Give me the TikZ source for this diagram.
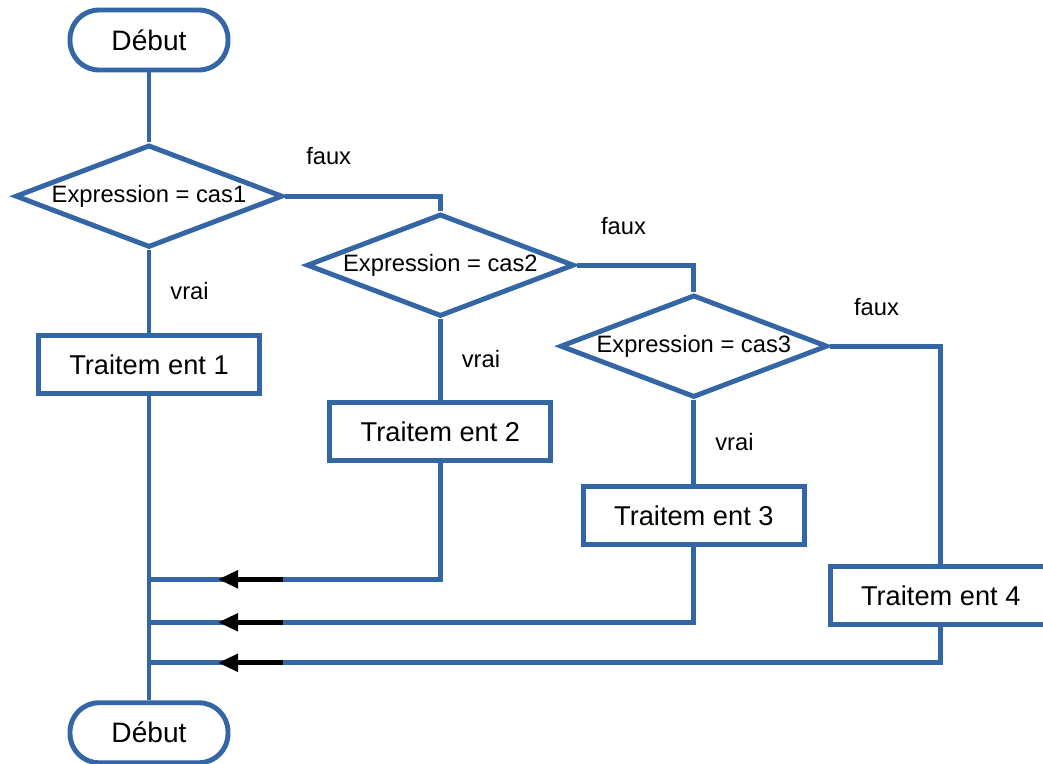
\documentclass[tikz,border=0pt]{standalone}
\usepackage{fontspec}
\setmainfont{Liberation Sans}
\usetikzlibrary{shapes,arrows.meta,positioning}
\definecolor{bleu}{HTML}{3465A4}
\tikzstyle{terminal} = [rectangle, draw=bleu, line width=2.8pt, fill=white,
    rounded corners=0.58cm, minimum width=3.16cm, minimum height=1.2cm,
    font=\fontsize{16}{18}\selectfont]
\tikzstyle{decision} = [diamond, draw=bleu, line width=2.8pt, fill=white,
    shape aspect=2.6, inner sep=0pt, minimum width=5.35cm, minimum height=2.05cm,
    font=\fontsize{13.5}{15}\selectfont]
\tikzstyle{traitement} = [rectangle, draw=bleu, line width=2.8pt, fill=white,
    minimum width=4.42cm, minimum height=1.16cm, font=\fontsize{15.5}{17}\selectfont]
\tikzstyle{lien} = [draw=bleu, line width=2.8pt]
\tikzstyle{etiquette} = [inner sep=0pt, font=\fontsize{13.5}{15}\selectfont]
\tikzstyle{fleche} = [draw=black, line width=2.8pt, -{Triangle[length=0.4cm,width=0.34cm]}]

\begin{document}
\begin{tikzpicture}
    \useasboundingbox (0,0) rectangle (20.86,-15.26);
    \clip (0,0) rectangle (20.86,-15.26);

    \node[terminal] (debut) at (2.98,-0.8) {Début};
    \node[decision, below=1.4cm of debut] (cas1) {Expression = cas1};
    \node[traitement, below=1.66cm of cas1] (t1) {Traitem ent 1};
    \node[terminal, below=6.09cm of t1] (fin) {Début};

    \node[decision, right=0.38cm of cas1, yshift=-1.38cm] (cas2) {Expression = cas2};
    \node[traitement, below=1.62cm of cas2] (t2) {Traitem ent 2};

    \node[decision, right=-0.38cm of cas2, yshift=-1.62cm] (cas3) {Expression = cas3};
    \node[traitement, below=1.68cm of cas3] (t3) {Traitem ent 3};

    \node[traitement, right=0.42cm of t3, yshift=-1.61cm] (t4) {Traitem ent 4};

    \coordinate[below=2.33cm of t2.south] (j2);
    \coordinate[below=1.51cm of t3.south] (j3);
    \coordinate[below=0.71cm of t4.south] (j4);
    \coordinate (k2) at (t1 |- j2);
    \coordinate (k3) at (t1 |- j3);
    \coordinate (k4) at (t1 |- j4);

    \path[lien] (debut) -- (cas1);
    \path[lien] (cas1) -- node[etiquette, midway, right=0.38cm] {vrai} (t1);
    \path[lien] (cas2) -- node[etiquette, midway, right=0.38cm] {vrai} (t2);
    \path[lien] (cas3) -- node[etiquette, midway, right=0.38cm] {vrai} (t3);

    \path[lien] (cas1.east) -| node[etiquette, pos=0.14, above=0.58cm] {faux} (cas2.north);
    \path[lien] (cas2.east) -| node[etiquette, pos=0.2, above=0.56cm] {faux} (cas3.north);
    \path[lien] (cas3.east) -| node[etiquette, pos=0.21, above=0.56cm] {faux} (t4.north);

    \path[lien] (t1) -- (fin);
    \path[lien] (t2) |- (k2);
    \path[lien] (t3) |- (k3);
    \path[lien] (t4) |- (k4);

    \path[fleche] ([xshift=2.68cm]k2) -- ([xshift=1.38cm]k2);
    \path[fleche] ([xshift=2.68cm]k3) -- ([xshift=1.38cm]k3);
    \path[fleche] ([xshift=2.68cm]k4) -- ([xshift=1.38cm]k4);
\end{tikzpicture}
\end{document}
